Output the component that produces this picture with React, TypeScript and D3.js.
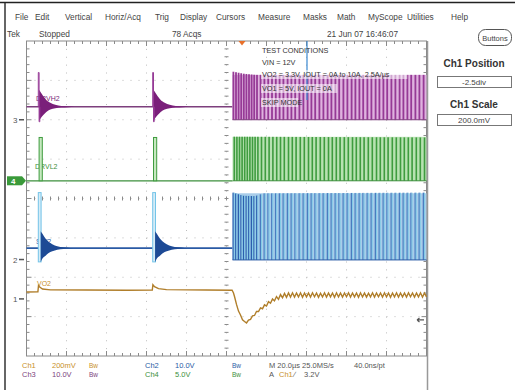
import React from "react";
import * as d3 from "d3";

// ---------- DATA ----------
const menuItems = ["File", "Edit", "Vertical", "Horiz/Acq", "Trig", "Display", "Cursors", "Measure", "Masks", "Math", "MyScope", "Utilities", "Help"];
const statusItems = ["Tek", "Stopped", "78 Acqs", "21 Jun 07 16:46:07"];
const testConditions = ["TEST CONDITIONS", "VIN = 12V", "VO2 = 3.3V, IOUT = 0A to 10A, 2.5A/µs", "VO1 = 5V, IOUT = 0A", "SKIP MODE"];

// channels: Ch1 (mV), Ch2, Ch3, Ch4 (V)
const chNames = ["Ch1", "Ch2", "Ch3", "Ch4"];
const chScaleText = ["200mV", "10.0V", "10.0V", "5.0V"];
const chScaleVal = [200, 10, 10, 5];
const chPositionDiv = [-2.55, -1.55, 2.0, 0.45];
const traceLabels = ["VO2", "SW2", "DRVH2", "DRVL2"];

// time in µs (20 µs/div, 10 div)
const timeDomain = [0, 200];
const burstTimes = [5.9, 63.1];
const switchStart = 103;
const switchPulseStarts = [
  103.0, 104.3, 105.6, 106.9, 108.2, 109.5, 110.8, 112.1, 113.4, 114.8, 116.6, 118.5, 120.4, 122.3,
  124.2, 126.1, 128.0, 130.1, 132.0, 133.9, 136.0, 138.0, 140.1, 142.0, 143.9, 146.0, 148.0, 150.1,
  152.0, 154.0, 155.9, 158.0, 160.0, 162.1, 164.0, 166.0, 167.9, 170.0, 172.0, 174.1, 176.0, 178.0,
  179.9, 182.0, 184.0, 186.1, 188.0, 190.0, 191.9, 194.0, 196.0, 198.1,
];
const triggerTime = 107.75;
const cursorTime = 140.25;
const ch1TriggerLevel = -107; // mV relative

// Ch3 (purple) DRVH2, volts
const ch3Base = 3.3;
const ch3SpikeHigh = 12;
const ch3SpikeLow = -0.5;
const ch3Ring = [ // [dt, upper, lower]
  [0.4, 7.6, -0.3], [1.2, 7.0, 0.4], [2.5, 6.0, 1.2], [4, 5.0, 2.0], [6, 4.3, 2.6],
  [8.5, 3.8, 2.9], [11.5, 3.5, 3.1], [15, 3.35, 3.2], [18, 3.3, 3.3],
];
const ch3SwitchTop = [[103, 12.2], [108, 11.7], [114, 11.4], [200, 11.4]];
const ch3SwitchLow = 0;

// Ch4 (green) DRVL2
const ch4Base = 0;
const ch4PulseHigh = 5.5;
const ch4Pulse = [0.4, 2.0]; // dt start/end
const ch4SwitchTop = [[103, 5.6], [200, 5.5]];

// Ch2 (blue) SW2
const ch2Base = 2.9;
const ch2SpikeHigh = 17;
const ch2SpikeLow = -0.6;
const ch2SpikeWidth = 1.4;
const ch2Ring = [
  [1.2, 7.2, -0.6], [2, 6.6, 0.2], [3.5, 5.4, 0.9], [5, 4.6, 1.6], [7, 3.9, 2.1],
  [9.5, 3.4, 2.5], [12.5, 3.1, 2.7], [16, 2.95, 2.85], [19, 2.9, 2.9],
];
const ch2SwitchTop = [[103, 17], [108, 16.2], [114, 16.1], [118, 16.8], [200, 17]];
const ch2SwitchLow = -0.1;

// Ch1 (VO2), mV relative to marker
const ch1Points = [
  [0, 35], [5.7, 36], [6.0, 68], [6.6, 60], [8, 50], [12, 46], [30, 45], [50, 44], [62.9, 45],
  [63.2, 72], [64, 62], [66, 52], [70, 47], [90, 45], [102.8, 44],
  [103.5, 30], [104, 12], [105, -28], [106, -62], [107, -82], [108, -106], [109, -115], [110, -122],
  [111, -108], [112, -104], [113, -86], [114, -84], [115, -64], [116, -64], [117, -46], [118, -50],
  [119, -30], [120, -36], [121, -14], [122, -22], [123, 0], [124, -10], [125, 12], [126, -2],
  [127, 22], [128, 6], [129, 28], [130, 8], [131, 30], [132, 9], [133, 31], [134, 9],
  [135, 30], [136, 10], [137, 31], [138, 8], [139, 30], [140, 10], [141, 30], [142, 9], [143, 31],
  [144, 11], [145, 30], [146, 8], [147, 29], [148, 10], [149, 31], [150, 9], [151, 30], [152, 10],
  [153, 30], [154, 8], [155, 31], [156, 10], [157, 30], [158, 9], [159, 30], [160, 11], [161, 31],
  [162, 9], [163, 30], [164, 10], [165, 30], [166, 8], [167, 31], [168, 10], [169, 30], [170, 9],
  [171, 29], [172, 10], [173, 31], [174, 9], [175, 30], [176, 11], [177, 30], [178, 9], [179, 31],
  [180, 10], [181, 30], [182, 8], [183, 30], [184, 10], [185, 31], [186, 9], [187, 30], [188, 10],
  [189, 30], [190, 9], [191, 31], [192, 11], [193, 30], [194, 9], [195, 30], [196, 10], [197, 31],
  [198, 9], [199, 30], [200, 10],
];

const panelTitles = ["Ch1 Position", "Ch1 Scale"];
const panelValues = ["-2.5div", "200.0mV"];
const timebaseText = "M 20.0µs 25.0MS/s";
const sampleText = "40.0ns/pt";
const triggerText = ["A", "Ch1", "∕", "3.2V"];

// ---------- LAYOUT ----------
const W = 515, H = 390;
const L = 26.5, R = 426.5, T = 41, B = 356;
const menuX = [15, 35, 65, 105, 155, 180, 216, 258, 303, 337, 368, 407, 451];
const statusX = [7, 39, 172, 327];
const colors = {
  ch1: "#b07e2a", ch1Text: "#c8902a",
  ch2: "#2a5aa5", ch2Ring: "#1d4a95", ch2Light: "#74c4e8", ch2Bg: "#a9cde9", ch2Bar: "#4a7cc0", ch2Dark: "#2c5fae",
  ch3: "#7d3f7d", ch3Ring: "#7a1f7a", ch3Bg: "#dfb2df", ch3Bar: "#963a96",
  ch4: "#3d8f3d", ch4Bg: "#b8e2b2", ch4Bar: "#3f9c3f", ch4Light: "#c6e8c0",
  grid: "#bcbcbc", frame: "#8a8a8a", text: "#444",
};
const FONT = "'Liberation Sans', Arial, sans-serif";

export default function App() {
  const x = d3.scaleLinear().domain(timeDomain).range([L, R]);
  const yDiv = d3.scaleLinear().domain([-4, 4]).range([B, T]);
  const yCh = (ci: number, v: number) => yDiv(chPositionDiv[ci] + v / chScaleVal[ci]);
  const divW = (R - L) / 10, divH = (B - T) / 8;

  const env = (pts: number[][]) => d3.scaleLinear().domain(pts.map((p) => p[0])).range(pts.map((p) => p[1])).clamp(true);
  const ch3Top = env(ch3SwitchTop), ch4Top = env(ch4SwitchTop), ch2Top = env(ch2SwitchTop);

  // grid
  const grid: JSX.Element[] = [];
  for (let i = 1; i < 10; i++) {
    const gx = L + i * divW;
    grid.push(<line key={"gv" + i} x1={gx} x2={gx} y1={T} y2={B} stroke={colors.grid} strokeWidth={1} strokeDasharray={`1 ${divH / 5 - 1}`} />);
  }
  for (let j = 1; j < 8; j++) {
    const gy = T + j * divH;
    grid.push(<line key={"gh" + j} x1={L} x2={R} y1={gy} y2={gy} stroke={colors.grid} strokeWidth={1} strokeDasharray={`1 ${divW / 5 - 1}`} />);
  }
  const cx = L + 5 * divW, cy = T + 4 * divH;
  for (let k = 1; k < 50; k++) {
    const tx = L + k * divW / 5;
    const major = k % 5 === 0;
    grid.push(<line key={"tt" + k} x1={tx} x2={tx} y1={T} y2={T + (major ? 5 : 3)} stroke={colors.frame} />);
    grid.push(<line key={"tb" + k} x1={tx} x2={tx} y1={B} y2={B - (major ? 5 : 3)} stroke={colors.frame} />);
    grid.push(<line key={"tc" + k} x1={tx} x2={tx} y1={cy - 2} y2={cy + 2} stroke={colors.frame} />);
  }
  for (let k = 1; k < 40; k++) {
    const ty = T + k * divH / 5;
    const major = k % 5 === 0;
    grid.push(<line key={"tl" + k} y1={ty} y2={ty} x1={L} x2={L + (major ? 5 : 3)} stroke={colors.frame} />);
    grid.push(<line key={"tr" + k} y1={ty} y2={ty} x1={R} x2={R - (major ? 5 : 3)} stroke={colors.frame} />);
    grid.push(<line key={"tm" + k} y1={ty} y2={ty} x1={cx - 2} x2={cx + 2} stroke={colors.frame} />);
  }

  // rings
  const ringArea = (ci: number, b: number, ring: number[][]) =>
    d3.area<number[]>().x((d) => x(b + d[0])).y0((d) => yCh(ci, d[2])).y1((d) => yCh(ci, d[1])).curve(d3.curveMonotoneX)(ring) || "";

  const ch1Line = d3.line<number[]>().x((d) => x(d[0])).y((d) => yCh(0, d[1]))(ch1Points) || "";
  const swEnd = timeDomain[1];

  const textStyle = { fontFamily: FONT } as React.CSSProperties;

  return (
    <svg width={W} height={H} style={{ position: "absolute", left: 0, top: 0, background: "#fff" }} fontFamily={FONT}>
      <rect x={0} y={0} width={W} height={H} fill="#fff" />
      {/* outer borders */}
      <line x1={0} x2={W} y1={2.5} y2={2.5} stroke="#222" strokeWidth={1.5} />
      <line x1={5} x2={5} y1={3} y2={H} stroke="#333" strokeWidth={1.5} />
      <line x1={427.5} x2={427.5} y1={T} y2={H} stroke="#999" strokeWidth={1.5} />

      {/* menu */}
      {menuItems.map((m, i) => (
        <text key={m} x={menuX[i]} y={20} fontSize={8.3} fill={colors.text} style={textStyle}>{m}</text>
      ))}
      {statusItems.map((s, i) => (
        <text key={s} x={statusX[i]} y={36.5} fontSize={8.3} fill={colors.text} style={textStyle}>{s}</text>
      ))}
      <rect x={478.5} y={29.5} width={33} height={16} rx={7} fill="#fff" stroke="#555" strokeWidth={1} />
      <text x={495} y={40.5} fontSize={7.5} textAnchor="middle" fill="#444">Buttons</text>

      {/* grid */}
      {grid}
      <rect x={L} y={T} width={R - L} height={B - T} fill="none" stroke={colors.frame} strokeWidth={1} />

      {/* trace labels (under traces) */}
      <text x={36} y={101} fontSize={7} fill={colors.ch3Ring}>{traceLabels[2]}</text>
      <text x={35} y={169} fontSize={7} fill={colors.ch4}>{traceLabels[3]}</text>
      <text x={36} y={244} fontSize={7} fill={colors.ch2}>{traceLabels[1]}</text>
      <text x={37} y={286} fontSize={7} fill={colors.ch1Text}>{traceLabels[0]}</text>

      {/* ---- Ch3 purple ---- */}
      <line x1={x(0)} x2={x(switchStart)} y1={yCh(2, ch3Base)} y2={yCh(2, ch3Base)} stroke={colors.ch3} strokeWidth={1.6} />
      {burstTimes.map((b, i) => (
        <g key={"p" + i}>
          <path d={ringArea(2, b, ch3Ring)} fill={colors.ch3Ring} />
          <path d={`M${x(b)},${yCh(2, ch3Base)}V${yCh(2, ch3SpikeHigh)}H${x(b) + 0.8}V${yCh(2, ch3SpikeLow)}H${x(b) + 1.5}V${yCh(2, ch3Base)}`} fill="none" stroke={colors.ch3Bar} strokeWidth={1} />
        </g>
      ))}
      <rect x={x(switchStart)} width={x(swEnd) - x(switchStart)} y={yCh(2, ch3Top(120))} height={yCh(2, ch3SwitchLow) - yCh(2, ch3Top(120))} fill={colors.ch3Bg} />
      {switchPulseStarts.map((s, i) => (
        <rect key={"pb" + i} x={x(s)} width={1.8} y={yCh(2, ch3Top(s))} height={yCh(2, ch3SwitchLow) - yCh(2, ch3Top(s))} fill={colors.ch3Bar} />
      ))}
      <line x1={x(switchStart)} x2={x(swEnd)} y1={yCh(2, ch3SwitchLow)} y2={yCh(2, ch3SwitchLow)} stroke={colors.ch3} strokeWidth={1} />

      {/* ---- Ch4 green ---- */}
      <line x1={x(0)} x2={x(switchStart)} y1={yCh(3, ch4Base)} y2={yCh(3, ch4Base)} stroke={colors.ch4} strokeWidth={1.3} />
      {burstTimes.map((b, i) => (
        <rect key={"g" + i} x={x(b + ch4Pulse[0])} width={x(b + ch4Pulse[1]) - x(b + ch4Pulse[0])} y={yCh(3, ch4PulseHigh)} height={yCh(3, ch4Base) - yCh(3, ch4PulseHigh)} fill={colors.ch4Light} stroke={colors.ch4Bar} strokeWidth={1} />
      ))}
      <rect x={x(switchStart)} width={x(swEnd) - x(switchStart)} y={yCh(3, ch4Top(120))} height={yCh(3, ch4Base) - yCh(3, ch4Top(120))} fill={colors.ch4Bg} />
      {switchPulseStarts.map((s, i) => (
        <rect key={"gb" + i} x={x(s) + 1} width={1.6} y={yCh(3, ch4Top(s))} height={yCh(3, ch4Base) - yCh(3, ch4Top(s))} fill={colors.ch4Bar} />
      ))}
      <line x1={x(switchStart)} x2={x(swEnd)} y1={yCh(3, ch4Base)} y2={yCh(3, ch4Base)} stroke={colors.ch4} strokeWidth={1} />

      {/* ---- Ch2 blue ---- */}
      <line x1={x(0)} x2={x(switchStart)} y1={yCh(1, ch2Base)} y2={yCh(1, ch2Base)} stroke={colors.ch2} strokeWidth={1.8} />
      {burstTimes.map((b, i) => (
        <g key={"b" + i}>
          <rect x={x(b)} width={x(b + ch2SpikeWidth) - x(b)} y={yCh(1, ch2SpikeHigh)} height={yCh(1, ch2SpikeLow) - yCh(1, ch2SpikeHigh)} fill="#d4ecf7" stroke={colors.ch2Light} strokeWidth={1} />
          <path d={ringArea(1, b, ch2Ring)} fill={colors.ch2Ring} />
        </g>
      ))}
      <rect x={x(switchStart)} width={x(swEnd) - x(switchStart)} y={yCh(1, ch2Top(130))} height={yCh(1, ch2SwitchLow) - yCh(1, ch2Top(130))} fill={colors.ch2Bg} />
      {switchPulseStarts.map((s, i) => (
        <g key={"bb" + i}>
          <rect x={x(s)} width={1.3} y={yCh(1, ch2Top(s))} height={yCh(1, ch2SwitchLow) - yCh(1, ch2Top(s))} fill={s < 115 ? colors.ch2Dark : colors.ch2Bar} />
          <rect x={x(s) + 1.3} width={0.9} y={yCh(1, ch2Top(s))} height={yCh(1, ch2SwitchLow) - yCh(1, ch2Top(s))} fill="#7fcbe6" />
        </g>
      ))}
      <line x1={x(switchStart)} x2={x(swEnd)} y1={yCh(1, ch2SwitchLow)} y2={yCh(1, ch2SwitchLow)} stroke={colors.ch2} strokeWidth={1} />

      {/* ---- Ch1 ---- */}
      <path d={ch1Line} fill="none" stroke={colors.ch1} strokeWidth={1.4} />

      {/* channel markers */}
      <text x={13} y={yCh(2, 0) + 3} fontSize={8} fill="#555">3</text>
      <path d={`M19,${yCh(2, 0)}H24`} stroke="#555" strokeWidth={1.5} />
      <rect x={7} y={yCh(3, 0) - 4.5} width={15} height={9} fill="#3a9a3a" />
      <path d={`M22,${yCh(3, 0) - 4.5}L26,${yCh(3, 0)}L22,${yCh(3, 0) + 4.5}Z`} fill="#3a9a3a" />
      <text x={11} y={yCh(3, 0) + 3} fontSize={8} fill="#fff" fontWeight="bold">4</text>
      <text x={13} y={yCh(1, 0) + 3} fontSize={8} fill="#555">2</text>
      <path d={`M19,${yCh(1, 0)}H24`} stroke="#555" strokeWidth={1.5} />
      <text x={13} y={yCh(0, 0) + 3} fontSize={8} fill="#555">1</text>
      <path d={`M19,${yCh(0, 0)}H24`} stroke="#555" strokeWidth={1.5} />
      <path d={`M417,${yCh(0, ch1TriggerLevel)}H424 M417,${yCh(0, ch1TriggerLevel)}l2.5,-2 M417,${yCh(0, ch1TriggerLevel)}l2.5,2`} stroke="#555" strokeWidth={1.2} fill="none" />

      {/* trigger position marker */}
      <path d={`M${x(triggerTime) - 3.5},${T}L${x(triggerTime) + 3.5},${T}L${x(triggerTime)},${T + 4.5}Z`} fill="#e8702a" />

      {/* cursor line */}
      <line x1={x(cursorTime)} x2={x(cursorTime)} y1={T} y2={100} stroke="#3a88d0" strokeWidth={1.2} />

      {/* test condition text */}
      {testConditions.map((t, i) => {
        const ys = [53, 65, 77, 91, 105];
        return (
          <g key={t}>
            {i >= 2 && <rect x={261} y={ys[i] - 7} width={t.length * 3.9 + 2} height={9} fill="#fff" opacity={0.55} />}
            <text x={262} y={ys[i]} fontSize={7.3} fill="#333" style={textStyle}>{t}</text>
          </g>
        );
      })}

      {/* right panel */}
      {panelTitles.map((t, i) => (
        <g key={t}>
          <text x={474} y={67 + i * 41} fontSize={10} fontWeight="bold" textAnchor="middle" fill="#333">{t}</text>
          <rect x={437.5} y={76.5 + i * 38} width={74} height={11} fill="#fff" stroke="#777" strokeWidth={1} />
          <text x={474} y={85 + i * 38} fontSize={8} textAnchor="middle" fill="#444">{panelValues[i]}</text>
        </g>
      ))}

      {/* bottom readouts */}
      {[0, 1].map((row) => {
        const yRow = row === 0 ? 368 : 377;
        const a = row === 0 ? 0 : 2; // Ch1/Ch3
        const b = row === 0 ? 1 : 3; // Ch2/Ch4
        const cA = [colors.ch1Text, colors.ch2, colors.ch3, colors.ch4][a];
        const cB = [colors.ch1Text, colors.ch2, colors.ch3, colors.ch4][b];
        return (
          <g key={"row" + row} fontSize={7.5}>
            <text x={22} y={yRow} fill={cA}>{chNames[a]}</text>
            <text x={52} y={yRow} fill={cA}>{chScaleText[a]}</text>
            <text x={89} y={yRow} fill={cA} fontSize={6.5}>Bw</text>
            <text x={145} y={yRow} fill={cB}>{chNames[b]}</text>
            <text x={175} y={yRow} fill={cB}>{chScaleText[b]}</text>
            <text x={232} y={yRow} fill={cB} fontSize={6.5}>Bw</text>
          </g>
        );
      })}
      <text x={269} y={368} fontSize={7.5} fill="#555">{timebaseText}</text>
      <text x={354} y={368} fontSize={7.5} fill="#555">{sampleText}</text>
      <text x={269} y={377} fontSize={7.5} fill="#555">{triggerText[0]}</text>
      <text x={279} y={377} fontSize={7.5} fill={colors.ch1Text}>{triggerText[1]}</text>
      <text x={294} y={377} fontSize={7.5} fill="#555">{triggerText[2]}</text>
      <text x={304} y={377} fontSize={7.5} fill="#555">{triggerText[3]}</text>
    </svg>
  );
}
